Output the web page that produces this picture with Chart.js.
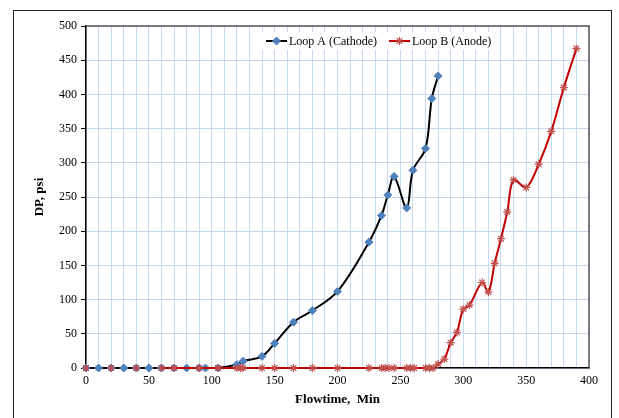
<!DOCTYPE html>
<html>
<head>
<meta charset="utf-8">
<title>DP vs Flowtime</title>
<script src="https://cdn.jsdelivr.net/npm/chart.js@4.4.1/dist/chart.umd.min.js"></script>
<style>
  html, body { margin: 0; padding: 0; background: #fff; overflow: hidden; }
  #wrap { position: relative; width: 619px; height: 418px; }
</style>
</head>
<body>
<div id="wrap"><canvas id="dpChart" width="619" height="418"></canvas></div>
<script>
// Loop A (cathode) readings
const loopATime = [0, 10, 20, 30, 40, 50, 60, 70, 80, 90, 95, 105, 120, 125, 140, 150, 165, 180, 200, 225, 235, 240, 245, 255, 260, 270, 275, 280];
const loopADp   = [0, 0, 0, 0, 0, 0, 0, 0, 0, 0, 0, 0, 5, 10, 17, 36, 67, 84, 112, 184, 223, 253, 280, 234, 289, 321, 394, 427];

// Loop B (anode) readings; null = no reading, leaves a gap in the line
const loopBTime = [0, 10, 20, 30, 40, 50, 60, 70, 90, 105, 120, 123, 125, 140, 150, 165, 180, 200, 225, 235, 238, 241, 245, 255, 258, 261, 270, 273, 276,
                   280, 285, 290, 295, 300, 305, 315, 320, 325, 330, 335, 340, 350, 360, 370, 380, 390];
const loopBDp   = [0, null, 0, null, 0, null, 0, 0, 0, 0, 0, 0, 0, 0, 0, 0, 0, 0, 0, 0, 0, 0, 0, 0, 0, 0, 0, 0, 0,
                   6, 13, 37, 52, 86, 92, 125, 111, 153, 189, 228, 275, 264, 298, 346, 410, 467];

const seriesNames = ['Loop A (Cathode)', 'Loop B (Anode)'];
const xTickLabels = [0, 50, 100, 150, 200, 250, 300, 350, 400];
const yTickLabels = [0, 50, 100, 150, 200, 250, 300, 350, 400, 450, 500];

const serif = "'Liberation Serif', 'Times New Roman', serif";
const gridBlue = '#C6D9F1';

const toPoints = (xs, ys) => xs.map((x, i) => ({ x: x, y: ys[i] }));

// outer frame around the whole chart
const framePlugin = {
    id: 'frame',
    beforeDraw(chart) {
        const ctx = chart.ctx;
        ctx.save();
        ctx.fillStyle = '#fff';
        ctx.fillRect(0, 0, chart.width, chart.height);
        ctx.strokeStyle = '#222';
        ctx.lineWidth = 1;
        ctx.strokeRect(13.5, 10.5, 598, 430);
        ctx.restore();
    },
    // dark border on top and right of the plot area
    beforeDatasetsDraw(chart) {
        const a = chart.chartArea;
        const ctx = chart.ctx;
        ctx.save();
        ctx.strokeStyle = '#555';
        ctx.lineWidth = 1.5;
        ctx.beginPath();
        ctx.moveTo(a.left, a.top);
        ctx.lineTo(a.right, a.top);
        ctx.lineTo(a.right, a.bottom);
        ctx.stroke();
        ctx.restore();
    }
};

// legend drawn inside the plot, near the top
const insideLegend = {
    id: 'insideLegend',
    afterDatasetsDraw(chart) {
        const ctx = chart.ctx;
        const y = 41;
        let x = 266;
        const lineLen = 21;
        ctx.save();
        ctx.font = '12px ' + serif;
        ctx.textBaseline = 'middle';
        const widths = chart.data.datasets.map(ds => ctx.measureText(ds.label).width);
        const total = widths.reduce((s, w) => s + w + lineLen + 2, 0) + 12;
        ctx.fillStyle = '#fff';
        ctx.fillRect(x - 4, y - 9, total + 6, 18);

        chart.data.datasets.forEach((ds, i) => {
            ctx.strokeStyle = ds.borderColor;
            ctx.lineWidth = 2;
            ctx.beginPath();
            ctx.moveTo(x, y);
            ctx.lineTo(x + lineLen, y);
            ctx.stroke();

            ctx.fillStyle = ds.pointBackgroundColor;
            ctx.strokeStyle = ds.pointBorderColor;
            ctx.lineWidth = ds.pointBorderWidth;
            Chart.helpers.drawPoint(ctx, {
                pointStyle: ds.pointStyle,
                radius: ds.pointRadius,
                rotation: 0,
                borderWidth: ds.pointBorderWidth
            }, x + lineLen / 2, y);

            ctx.fillStyle = '#000';
            ctx.fillText(ds.label, x + lineLen + 2, y + 1);
            x += lineLen + 2 + widths[i] + 12;
        });
        ctx.restore();
    }
};

const ctx = document.getElementById('dpChart').getContext('2d');
new Chart(ctx, {
    type: 'line',
    data: {
        datasets: [
            {
                label: seriesNames[0],
                data: toPoints(loopATime, loopADp),
                borderColor: '#000',
                borderWidth: 2,
                tension: 0.35,
                clip: false,
                pointStyle: 'rectRot',
                pointRadius: 4,
                pointBackgroundColor: '#4F81BD',
                pointBorderColor: '#4F81BD',
                pointBorderWidth: 1,
                order: 1
            },
            {
                label: seriesNames[1],
                data: toPoints(loopBTime, loopBDp),
                borderColor: '#C00000',
                borderWidth: 2,
                tension: 0.35,
                clip: false,
                spanGaps: false,
                pointStyle: 'star',
                pointRadius: 4,
                pointBackgroundColor: '#C0504D',
                pointBorderColor: '#C0504D',
                pointBorderWidth: 1.2,
                order: 0
            }
        ]
    },
    options: {
        responsive: false,
        animation: false,
        events: [],
        layout: { padding: { left: 13, right: 30, top: 26, bottom: 0 } },
        plugins: {
            legend: { display: false },
            tooltip: { enabled: false }
        },
        scales: {
            x: {
                type: 'linear',
                min: 0,
                max: 400,
                afterFit(scale) { scale.height = 50; },
                afterBuildTicks(scale) {
                    const ticks = [];
                    for (let v = 0; v <= 400; v += 10) ticks.push({ value: v });
                    scale.ticks = ticks;
                },
                ticks: {
                    autoSkip: false,
                    maxRotation: 0,
                    padding: 6,
                    color: '#000',
                    font: { family: serif, size: 12 },
                    callback: v => xTickLabels.includes(v) ? String(v) : ''
                },
                grid: { color: gridBlue, lineWidth: 1, drawTicks: false },
                border: { color: '#000', width: 1.5 },
                title: {
                    display: true,
                    text: 'Flowtime,  Min',
                    color: '#000',
                    font: { family: serif, size: 13, weight: 'bold' },
                    padding: { top: 0, bottom: 11 }
                }
            },
            y: {
                type: 'linear',
                min: 0,
                max: 500,
                afterFit(scale) { scale.width = 73; },
                afterBuildTicks(scale) {
                    scale.ticks = yTickLabels.map(v => ({ value: v }));
                },
                ticks: {
                    padding: 4,
                    color: '#000',
                    font: { family: serif, size: 12 }
                },
                grid: { color: gridBlue, lineWidth: 1, tickLength: 5, tickColor: '#000' },
                border: { color: '#000', width: 1.5 },
                title: {
                    display: true,
                    text: 'DP, psi',
                    color: '#000',
                    font: { family: serif, size: 13, weight: 'bold' },
                    padding: { top: 19, bottom: 0 }
                }
            }
        }
    },
    plugins: [framePlugin, insideLegend]
});
</script>
</body>
</html>
